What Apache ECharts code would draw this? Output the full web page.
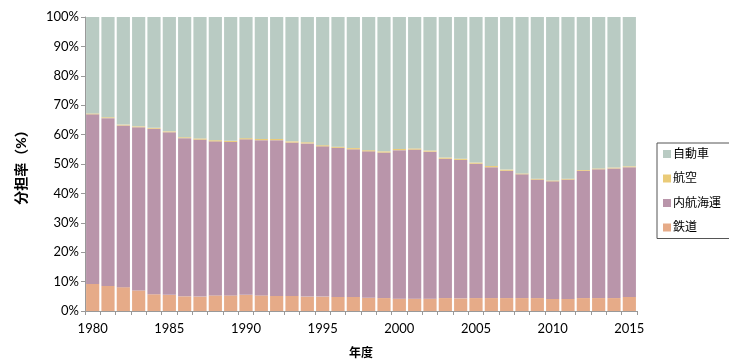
<!DOCTYPE html>
<html>
<head>
<meta charset="utf-8">
<script src="https://cdn.jsdelivr.net/npm/echarts@6/dist/echarts.min.js"></script>
<style>
  html, body { margin: 0; padding: 0; background: #fff; }
  #chart { width: 729px; height: 361px; }
</style>
</head>
<body>
<div id="chart"></div>
<script>
const years = [];
for (let y = 1980; y <= 2015; y++) years.push(String(y));

// shares in percent
const rail = [9.2, 8.5, 8.1, 7.0, 5.7, 5.5, 5.0, 4.9, 5.3, 5.3, 5.5, 5.3, 5.1, 5.1, 4.9, 4.9, 4.8, 4.8,
              4.5, 4.4, 4.2, 4.2, 4.2, 4.4, 4.3, 4.4, 4.4, 4.4, 4.4, 4.4, 4.1, 4.1, 4.4, 4.4, 4.4, 4.8];
const shipping = [57.7, 57.1, 55.0, 55.5, 56.3, 55.3, 53.8, 53.4, 52.4, 52.2, 52.9, 52.8, 53.0, 52.2, 52.1, 51.1, 50.7, 50.2,
                  49.8, 49.5, 50.5, 50.7, 50.0, 47.4, 47.1, 45.7, 44.5, 43.3, 42.1, 40.3, 40.0, 40.6, 43.3, 43.8, 44.1, 44.1];
const air = [0.3, 0.3, 0.3, 0.3, 0.3, 0.3, 0.3, 0.4, 0.4, 0.4, 0.4, 0.4, 0.4, 0.4, 0.4, 0.4, 0.4, 0.4,
             0.4, 0.4, 0.4, 0.4, 0.4, 0.4, 0.4, 0.4, 0.4, 0.4, 0.3, 0.3, 0.3, 0.3, 0.3, 0.3, 0.3, 0.3];
const auto = [32.8, 34.1, 36.6, 37.2, 37.7, 38.9, 40.9, 41.3, 41.9, 42.1, 41.2, 41.5, 41.5, 42.3, 42.6, 43.6, 44.1, 44.6,
              45.3, 45.7, 44.9, 44.7, 45.4, 47.8, 48.2, 49.5, 50.7, 51.9, 53.2, 55.0, 55.6, 55.0, 52.0, 51.5, 51.2, 50.8];

const FONT = 'Lato, "Noto Sans CJK JP", sans-serif';
const TXT = '#000';

const chart = echarts.init(document.getElementById('chart'), null, { renderer: 'canvas' });

function bar(name, data, color) {
    return {
        name, type: 'bar', stack: 'all', data,
        barCategoryGap: '14%',
        itemStyle: { color },
        emphasis: { disabled: true },
        animation: false,
    };
}

chart.setOption({
    animation: false,
    textStyle: { fontFamily: FONT },
    grid: { left: 85, right: 92, top: 17, bottom: 50, outerBoundsMode: 'none' },
    legend: {
        orient: 'vertical',
        left: 657, top: 143,
        width: 72,
        padding: [5, 10, 5, 6],
        borderColor: '#555', borderWidth: 1,
        itemWidth: 8, itemHeight: 8, itemGap: 12.5,
        icon: 'rect',
        textStyle: { fontSize: 12, color: TXT, fontFamily: FONT, padding: [0, 0, 0, -3] },
        data: ['自動車', '航空', '内航海運', '鉄道'],
    },
    xAxis: {
        type: 'category',
        data: years,
        name: '年度',
        nameLocation: 'middle',
        nameGap: 36,
        nameTextStyle: { fontWeight: 'bold', fontSize: 12, color: TXT },
        axisLine: { lineStyle: { color: '#999' } },
        axisTick: { show: true, interval: 0, alignWithLabel: false, length: 4, lineStyle: { color: '#999' } },
        axisLabel: { interval: 4, fontSize: 13, color: TXT, margin: 11 },
    },
    yAxis: {
        type: 'value',
        min: 0, max: 100, interval: 10,
        name: '分担率（%）',
        nameLocation: 'middle',
        nameGap: 57,
        nameTextStyle: { fontWeight: 'bold', fontSize: 14, color: TXT },
        axisLine: { show: true, lineStyle: { color: '#999' } },
        axisTick: { show: true, length: 4, lineStyle: { color: '#999' } },
        splitLine: { show: false },
        axisLabel: { formatter: '{value}%', fontSize: 13, color: TXT, margin: 6 },
    },
    series: [
        bar('鉄道', rail, '#E6AB88'),
        bar('内航海運', shipping, '#B995AA'),
        bar('航空', air, '#EACB78'),
        bar('自動車', auto, '#B9CBC3'),
    ],
});
</script>
</body>
</html>
